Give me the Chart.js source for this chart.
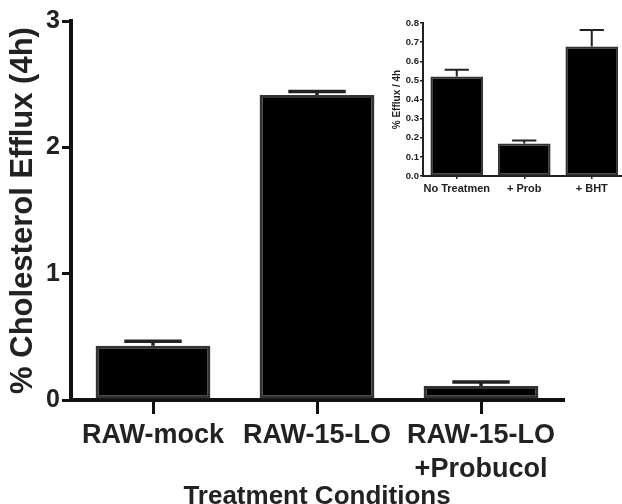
<!DOCTYPE html>
<html>
<head>
<meta charset="utf-8">
<script src="https://cdn.jsdelivr.net/npm/chart.js@4.4.1/dist/chart.umd.min.js"></script>
<style>
  html, body { margin: 0; padding: 0; background: #fff; overflow: hidden; }
  #wrap { position: relative; width: 622px; height: 504px; overflow: hidden; background: #fff; }
  #main { position: absolute; left: 0; top: 0; }
  #inset { position: absolute; left: 378px; top: 0; }
</style>
</head>
<body>
<div id="wrap">
  <canvas id="main" width="622" height="504"></canvas>
  <canvas id="inset" width="252" height="200"></canvas>
</div>
<script>
// ---- Main chart data ----
const mainCategories = ['RAW-mock', 'RAW-15-LO', ['RAW-15-LO', '+Probucol']];
const mainValues = [0.43, 2.415, 0.11];
const mainErrors = [0.036, 0.027, 0.032];
const mainYTickLabels = ['0', '1', '2', '3'];
const mainYTitle = '% Cholesterol Efflux (4h)';
const mainXTitle = 'Treatment Conditions';

// ---- Inset chart data ----
const insetCategories = ['No Treatmen', '+ Prob', '+ BHT'];
const insetValues = [0.52, 0.17, 0.677];
const insetErrors = [0.035, 0.015, 0.087];
const insetYTickLabels = ['0.0', '0.1', '0.2', '0.3', '0.4', '0.5', '0.6', '0.7', '0.8'];
const insetYTitle = '% Efflux / 4h';

const FONT = "'Liberation Sans', Arial, Helvetica, sans-serif";
const TEXT = '#222';

function errorBarPlugin(errors, opts) {
  return {
    id: 'errbars',
    afterDatasetsDraw(chart) {
      const ctx = chart.ctx;
      const meta = chart.getDatasetMeta(0);
      const y = chart.scales.y;
      const vals = chart.data.datasets[0].data;
      ctx.save();
      ctx.strokeStyle = opts.color;
      ctx.lineWidth = opts.width;
      ctx.lineCap = 'butt';
      meta.data.forEach((bar, i) => {
        const x = bar.x;
        const y0 = y.getPixelForValue(vals[i]);
        const y1 = y.getPixelForValue(vals[i] + errors[i]);
        const half = bar.width * opts.capRatio / 2;
        ctx.beginPath();
        ctx.moveTo(x, y0);
        ctx.lineTo(x, y1);
        ctx.moveTo(x - half, y1);
        ctx.lineTo(x + half, y1);
        ctx.stroke();
      });
      ctx.restore();
    }
  };
}

new Chart(document.getElementById('main'), {
  type: 'bar',
  data: {
    labels: mainCategories,
    datasets: [{
      data: mainValues,
      backgroundColor: '#000',
      borderColor: '#333',
      borderWidth: 3,
      borderSkipped: false,
      categoryPercentage: 1,
      barPercentage: 0.70
    }]
  },
  options: {
    responsive: false,
    animation: false,
    devicePixelRatio: 1,
    layout: { padding: { top: 21, right: 59, bottom: 0, left: 0 } },
    plugins: { legend: { display: false }, tooltip: { enabled: false } },
    scales: {
      x: {
        afterFit(s) { s.height = 104; },
        grid: { display: true, drawOnChartArea: false, drawTicks: true, tickLength: 14, offset: false, color: '#111', lineWidth: 3 },
        border: { display: true, width: 4, color: '#111' },
        ticks: { color: TEXT, padding: 5, maxRotation: 0, autoSkip: false,
                 font: { family: FONT, size: 27, weight: 'bold', lineHeight: 1.24 } },
        title: { display: true, text: mainXTitle, color: TEXT,
                 font: { family: FONT, size: 26, weight: 'bold', lineHeight: 1 },
                 padding: { top: 0, bottom: -6 } }
      },
      y: {
        min: 0, max: 3,
        afterFit(s) { s.width = 71; },
        grid: { display: true, drawOnChartArea: false, drawTicks: true, tickLength: 9, color: '#111', lineWidth: 3 },
        border: { display: true, width: 4, color: '#111' },
        ticks: { stepSize: 1, color: TEXT, padding: 2,
                 font: { family: FONT, size: 25, weight: 'bold' },
                 callback: (v, i) => mainYTickLabels[i] },
        title: { display: true, text: mainYTitle, color: TEXT,
                 font: { family: FONT, size: 31, weight: 'bold', lineHeight: 1.2 },
                 padding: { top: 5, bottom: 0 } }
      }
    }
  },
  plugins: [errorBarPlugin(mainErrors, { color: '#222', width: 3.5, capRatio: 0.5 })]
});

new Chart(document.getElementById('inset'), {
  type: 'bar',
  data: {
    labels: insetCategories,
    datasets: [{
      data: insetValues,
      backgroundColor: '#000',
      borderColor: '#333',
      borderWidth: 2,
      borderSkipped: false,
      categoryPercentage: 1,
      barPercentage: 0.78
    }]
  },
  options: {
    responsive: false,
    animation: false,
    devicePixelRatio: 1,
    layout: { padding: { top: 23, right: 4.5, bottom: 0, left: 0 } },
    plugins: { legend: { display: false }, tooltip: { enabled: false } },
    scales: {
      x: {
        afterFit(s) { s.height = 24; },
        grid: { display: true, drawOnChartArea: false, drawTicks: true, tickLength: 3, offset: false, color: '#222', lineWidth: 1.5 },
        border: { display: true, width: 2, color: '#222' },
        ticks: { color: TEXT, padding: 3, maxRotation: 0, autoSkip: false,
                 font: { family: FONT, size: 11, weight: 'bold' } }
      },
      y: {
        min: 0, max: 0.8,
        afterFit(s) { s.width = 45; },
        grid: { display: true, drawOnChartArea: false, drawTicks: true, tickLength: 3, color: '#222', lineWidth: 1.5 },
        border: { display: true, width: 2, color: '#222' },
        ticks: { stepSize: 0.1, color: TEXT, padding: 1,
                 font: { family: FONT, size: 9.5, weight: 'bold' },
                 callback: (v, i) => insetYTickLabels[i] },
        title: { display: true, text: insetYTitle, color: TEXT,
                 font: { family: FONT, size: 10, weight: 'bold', lineHeight: 1.2 },
                 padding: { top: 13, bottom: 0 } }
      }
    }
  },
  plugins: [errorBarPlugin(insetErrors, { color: '#222', width: 2, capRatio: 0.46 })]
});
</script>
</body>
</html>
